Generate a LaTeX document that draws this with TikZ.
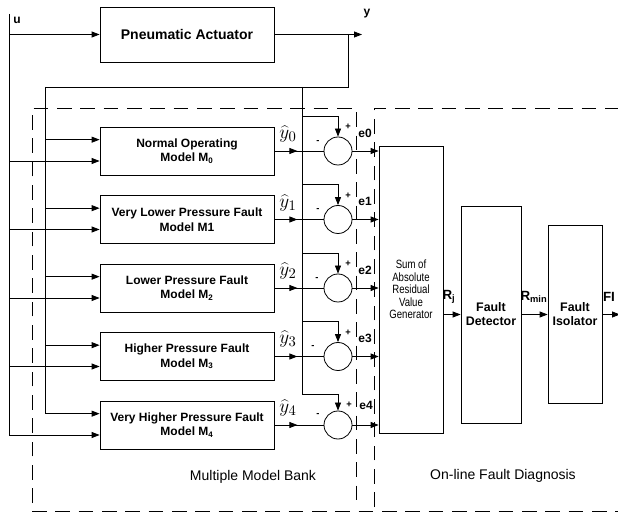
\documentclass[tikz,border=0pt]{standalone}
\usepackage{fontspec}
\setmainfont{Liberation Sans}
\newfontfamily\narrowfont[FakeStretch=0.8]{Liberation Sans}
\usepackage{tikz}
\usetikzlibrary{arrows.meta,positioning,calc}
\tikzset{
  act_box/.style={draw,minimum width=130.5pt,minimum height=41.25pt,
    font=\fontsize{10.5}{12}\selectfont\bfseries,align=center},
  model_box/.style={draw,minimum width=130.5pt,minimum height=36pt,inner sep=1pt,
    font=\fontsize{9}{11}\selectfont\bfseries,align=center},
  sum_box/.style={draw,minimum width=48pt,minimum height=215.25pt,inner sep=1pt,
    font=\narrowfont\fontsize{9}{9.4}\selectfont,align=center},
  diag_box/.style={draw,inner sep=1pt,
    font=\fontsize{9.3}{10.5}\selectfont\bfseries,align=center},
  sum_circ/.style={draw,circle,minimum size=21pt,inner sep=0pt},
  sig_lbl/.style={inner sep=0pt,font=\fontsize{9}{10}\selectfont\bfseries},
  sgn_lbl/.style={inner sep=0pt,font=\fontsize{7}{8}\selectfont\bfseries},
  hat_lbl/.style={inner sep=0pt,font=\fontsize{15}{15}\selectfont},
  txt_lbl/.style={inner sep=0pt,font=\fontsize{10.5}{12}\selectfont},
  dashbox/.style={dash pattern=on 11pt off 6.5pt,line width=0.7pt},
  arr/.style={-{Triangle[length=6pt,width=4.5pt]},line width=0.6pt},
}

\begin{document}
\begin{tikzpicture}[x=0.75pt,y=-0.75pt,line width=0.6pt]
  \useasboundingbox (0,0) rectangle (618,513);
  % plant
  \node[act_box] (act) at (187,34.5) {Pneumatic Actuator};
  \coordinate (ut) at (9,14);
  \coordinate (yt) at (45,87);
  \coordinate (fb) at (348,87);
  \coordinate (yb) at (302,87);
  \coordinate (yout) at (362,34.5);
  \node[sig_lbl] (ulbl) at (17,20) {u};
  \node[sig_lbl] (ylbl) at (367,14) {y};
  % model bank
  \node[model_box] (m0) at (187,151) {Normal Operating\\Model M\textsubscript{0}};
  \node[model_box] (m1) at (187,219.5) {Very Lower Pressure Fault\\Model M1};
  \node[model_box] (m2) at (187,288) {Lower Pressure Fault\\Model M\textsubscript{2}};
  \node[model_box] (m3) at (187,356.5) {Higher Pressure Fault\\Model M\textsubscript{3}};
  \node[model_box] (m4) at (187,425) {Very Higher Pressure Fault\\Model M\textsubscript{4}};
  \node[sum_circ] (s0) at (338,151) {};
  \node[sum_circ] (s1) at (338,219.5) {};
  \node[sum_circ] (s2) at (338,288) {};
  \node[sum_circ] (s3) at (338,356.5) {};
  \node[sum_circ] (s4) at (338,425) {};
  \coordinate (b0) at (302,116);
  \coordinate (b1) at (302,184.5);
  \coordinate (b2) at (302,253);
  \coordinate (b3) at (302,321.5);
  \coordinate (b4) at (302,394);
  % diagnosis
  \node[sum_box] (sum) at (411,289.5) {Sum of\\Absolute\\Residual\\Value\\Generator};
  \node[diag_box,minimum width=45pt,minimum height=162.75pt] (det) at (491,314.5) {Fault\\Detector};
  \node[diag_box,minimum width=40.5pt,minimum height=133.5pt] (iso) at (575,314.5) {Fault\\Isolator};
  \coordinate (fi) at (620,314.5);

  \draw[arr] (ut |- act.west) -- (act.west);
  \draw[arr] (act.east) -- (yout);
  \draw (act.east -| fb) -- (fb) -- (yt);
  \draw (ut) -- ([yshift=-7.5pt]m4.west -| ut);
  \draw (yt) -- ([yshift=8.5pt]m4.west -| yt);
  \draw (yb) -- (b4);

  \draw[arr] ([yshift=8.5pt]m0.west -| yt) -- ([yshift=8.5pt]m0.west);
  \draw[arr] ([yshift=-7.5pt]m0.west -| ut) -- ([yshift=-7.5pt]m0.west);
  \draw[arr] ([yshift=8.5pt]m1.west -| yt) -- ([yshift=8.5pt]m1.west);
  \draw[arr] ([yshift=-7.5pt]m1.west -| ut) -- ([yshift=-7.5pt]m1.west);
  \draw[arr] ([yshift=8.5pt]m2.west -| yt) -- ([yshift=8.5pt]m2.west);
  \draw[arr] ([yshift=-7.5pt]m2.west -| ut) -- ([yshift=-7.5pt]m2.west);
  \draw[arr] ([yshift=8.5pt]m3.west -| yt) -- ([yshift=8.5pt]m3.west);
  \draw[arr] ([yshift=-7.5pt]m3.west -| ut) -- ([yshift=-7.5pt]m3.west);
  \draw[arr] ([yshift=8.5pt]m4.west -| yt) -- ([yshift=8.5pt]m4.west);
  \draw[arr] ([yshift=-7.5pt]m4.west -| ut) -- ([yshift=-7.5pt]m4.west);

  \draw (m0.east) -- (s0.west); \draw[arr] (m0.east) -- +(23,0);
  \draw (m1.east) -- (s1.west); \draw[arr] (m1.east) -- +(23,0);
  \draw (m2.east) -- (s2.west); \draw[arr] (m2.east) -- +(23,0);
  \draw (m3.east) -- (s3.west); \draw[arr] (m3.east) -- +(23,0);
  \draw (m4.east) -- (s4.west); \draw[arr] (m4.east) -- +(23,0);

  \draw[arr] (b0) -| (s0.north); \draw[arr] (b1) -| (s1.north);
  \draw[arr] (b2) -| (s2.north); \draw[arr] (b3) -| (s3.north);
  \draw[arr] (b4) -| (s4.north);

  \draw[arr] (s0.east) -- (s0.east -| sum.west);
  \draw[arr] (s1.east) -- (s1.east -| sum.west);
  \draw[arr] (s2.east) -- (s2.east -| sum.west);
  \draw[arr] (s3.east) -- (s3.east -| sum.west);
  \draw[arr] (s4.east) -- (s4.east -| sum.west);

  \draw[arr] (sum.east |- det.west) -- (det.west);
  \draw[arr] (det.east) -- (iso.west);
  \draw[arr] (iso.east) -- (fi);

  % labels
  \node[hat_lbl] (h0) at (288,134) {$\widehat{y}_0$};
  \node[hat_lbl] (h1) at (288,203) {$\widehat{y}_1$};
  \node[hat_lbl] (h2) at (288,271) {$\widehat{y}_2$};
  \node[hat_lbl] (h3) at (288,339) {$\widehat{y}_3$};
  \node[hat_lbl] (h4) at (288,408) {$\widehat{y}_4$};
  \node[sig_lbl] (e0) at (365,133) {e0};
  \node[sig_lbl] (e1) at (365,201.5) {e1};
  \node[sig_lbl] (e2) at (365,270) {e2};
  \node[sig_lbl] (e3) at (365,338.5) {e3};
  \node[sig_lbl] (e4) at (366,405) {e4};
  \node[sgn_lbl] (p0) at (348,127) {+};
  \node[sgn_lbl] (p1) at (348,195.5) {+};
  \node[sgn_lbl] (p2) at (348,264) {+};
  \node[sgn_lbl] (p3) at (348,332.5) {+};
  \node[sgn_lbl] (p4) at (349,405) {+};
  \node[sgn_lbl] (n0) at (318,142) {-};
  \node[sgn_lbl] (n1) at (318,210.5) {-};
  \node[sgn_lbl] (n2) at (317,279) {-};
  \node[sgn_lbl] (n3) at (313,347.5) {-};
  \node[sgn_lbl] (n4) at (318,415) {-};
  \node[sig_lbl,font=\fontsize{10}{11}\selectfont\bfseries] (rj) at (449,297) {R\textsubscript{j}};
  \node[sig_lbl,font=\fontsize{10}{11}\selectfont\bfseries] (rmin) at (534,297) {R\textsubscript{min}};
  \node[sig_lbl,font=\fontsize{10}{11}\selectfont\bfseries] (fil) at (609,297) {FI};
  \node[txt_lbl] (bank) at (253,477) {Multiple Model Bank};
  \node[txt_lbl] (diag) at (503,476) {On-line Fault Diagnosis};

  % dashed frames
  \draw[dashbox] (32,503) -- (32,108) -- (356,108) -- (356,507);
  \draw[dashbox] (374,507) -- (374,108) -- (618,108);
  \draw[dashbox] (32,511) -- (618,511);
\end{tikzpicture}
\end{document}
